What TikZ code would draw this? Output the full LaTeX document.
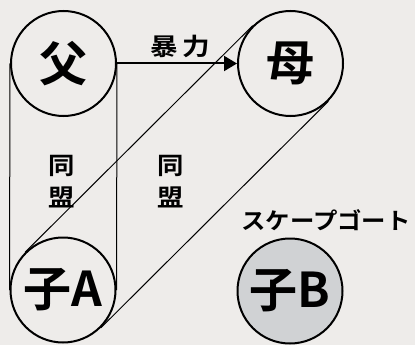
\documentclass[tikz,border=0pt]{standalone}
\usepackage{fontspec}
\newfontfamily\jp{Noto Sans CJK JP Bold}
\usetikzlibrary{arrows.meta}
\definecolor{bg}{RGB}{238,236,234}
\definecolor{cbfill}{RGB}{208,210,212}
\begin{document}
\begin{tikzpicture}[x=1pt,y=-1pt,
  person/.style={circle,draw=black,line width=2pt,minimum size=105pt,inner sep=0pt,font=\jp\fontsize{48}{48}\selectfont},
  lbl/.style={font=\jp\fontsize{24}{32}\selectfont,inner sep=0pt,align=center},
  tie/.style={line width=1pt}]
\fill[bg] (0,0) rectangle (415,345);
\useasboundingbox (0,0) rectangle (415,345);
\node[person] (fa) at (63.5,63.5) {父};
\node[person] (mo) at (290.5,63.5) {母};
\node[person] (ca) at (63,290) {子A};
\node[person,fill=cbfill] (cb) at (290,291) {子B};
\draw[tie] (fa.west) -- (ca.west);
\draw[tie] (fa.east) -- (ca.east);
\draw[tie] (ca.135) -- (mo.135);
\draw[tie] (ca.-45) -- (mo.-45);
\draw[line width=2pt,-{Triangle[length=13pt,width=15pt]}] (fa.east) -- (mo.west);
\node[lbl] (bo) at (180,46) {\scalebox{1.15}[1]{暴\,力}};
\node[lbl] (d1) at (62,182) {\scalebox{1.1}[1]{同}\\\scalebox{1.1}[1]{盟}};
\node[lbl] (d2) at (171,182) {\scalebox{1.1}[1]{同}\\\scalebox{1.1}[1]{盟}};
\node[lbl,font=\jp\fontsize{23}{32}\selectfont] (sg) at (326,220) {\scalebox{1.06}[1]{スケープゴート}};
\end{tikzpicture}
\end{document}
